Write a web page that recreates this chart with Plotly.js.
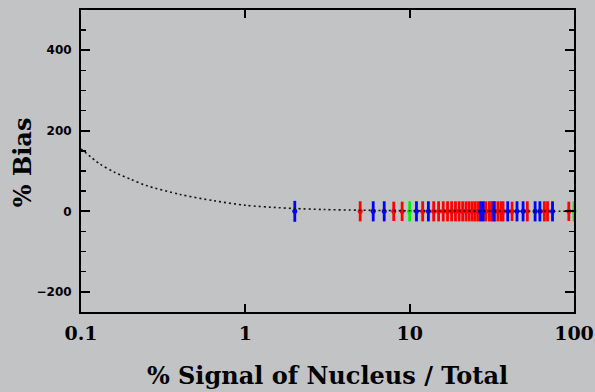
<!DOCTYPE html>
<html>
<head>
<meta charset="utf-8">
<script src="https://cdn.plot.ly/plotly-3.0.1.min.js"></script>
<style>html,body{margin:0;padding:0;background:#c2c3c5;}#chart{width:595px;height:392px;}</style>
</head>
<body>
<div id="chart"></div>
<script>
// Model curve (dotted)
const curveX = [0.1, 0.13, 0.16, 0.2, 0.25, 0.4, 0.65, 1, 1.6, 2, 3, 5, 10, 20, 50, 100];
const curveY = [155, 118, 97, 80, 64, 42, 26, 15, 9, 7, 4.5, 2.8, 1.4, 0.7, 0.3, 0.15];

// Red points
const redX = [5, 8, 9, 12, 14, 15, 16, 17, 18, 19, 20, 21, 22, 23, 24, 25, 26, 29, 30.5, 31.5, 33, 34.5, 36, 37, 42, 52, 66, 69, 93];
const redY = [0, 0, 0, 0, 0, 0, 0, 0, 0, 0, 0, 0, 0, 0, 0, 0, 0, 0, 0, 0, 0, 0, 0, 0, 0, 0, 0, 0, 0];
const redErr = [25, 24, 24, 25, 25, 25, 25, 25, 25, 25, 25, 25, 25, 25, 25, 25, 25, 25, 25, 25, 25, 25, 25, 25, 24, 25, 25, 25, 24];

// Blue points
const blueX = [2, 6, 7, 11, 13, 27, 28, 32.5, 39.5, 45, 49, 58, 62, 74];
const blueY = [0, 0, 0, 0, 0, 0, 0, 0, 0, 0, 0, 0, 0, 0];
const blueErr = [26, 25, 25, 25, 25, 25, 25, 25, 25, 25, 25, 25, 25, 25];

// Green points
const greenX = [10, 100];
const greenY = [0, 0];
const greenErr = [25, 25];

function pts(x, y, e, color) {
  return {
    x: x, y: y, type: 'scatter', mode: 'markers', cliponaxis: false,
    marker: {color: color, size: 5},
    error_y: {type: 'data', array: e, visible: true, color: color, thickness: 2.8, width: 0},
    showlegend: false, hoverinfo: 'skip'
  };
}

const traces = [
  pts(redX, redY, redErr, '#ff0000'),
  pts(blueX, blueY, blueErr, '#0000ff'),
  pts(greenX, greenY, greenErr, '#00ee00'),
  {x: curveX, y: curveY, type: 'scatter', mode: 'lines', line: {color: '#111', width: 1.6, dash: '2px,3px', shape: 'spline', smoothing: 0.8}, showlegend: false, hoverinfo: 'skip'}
];

const layout = {
  width: 595, height: 392,
  margin: {l: 81, r: 21, t: 10, b: 80},
  paper_bgcolor: '#c2c3c5', plot_bgcolor: '#c2c3c5',
  showlegend: false,
  xaxis: {
    type: 'log', range: [-1, 2],
    tickvals: [0.1, 1, 10, 100], ticktext: ['0.1', '1', '10', '100'],
    ticks: 'inside', ticklen: 8, tickwidth: 2, tickcolor: '#000',
    showline: true, linecolor: '#000', linewidth: 2, mirror: 'ticks',
    showgrid: false, zeroline: false,
    ticklabelstandoff: 3,
    tickfont: {family: 'DejaVu Serif', size: 19, color: '#000', weight: 'bold'},
    title: {text: '<b>% Signal of Nucleus / Total</b>', font: {family: 'DejaVu Serif', size: 24, color: '#000'}, standoff: 24}
  },
  yaxis: {
    range: [-250, 500],
    tickvals: [-200, 0, 200, 400], ticktext: ['\u2212200', '0', '200', '400'],
    ticks: 'inside', ticklen: 9, tickwidth: 2, tickcolor: '#000',
    minor: {dtick: 50, ticks: 'inside', ticklen: 5, tickwidth: 1.5, tickcolor: '#000', showgrid: false},
    showline: true, linecolor: '#000', linewidth: 2, mirror: 'ticks',
    showgrid: false, zeroline: false,
    ticklabelstandoff: 5,
    tickfont: {family: 'DejaVu Sans', size: 12, color: '#000', weight: 'bold'},
    title: {text: ''}
  },
  annotations: [{
    text: '<b>% Bias</b>', xref: 'paper', yref: 'paper',
    x: -0.117, y: 0.497, xanchor: 'center', yanchor: 'middle',
    textangle: -90, showarrow: false,
    font: {family: 'DejaVu Serif', size: 24, color: '#000'}
  }]
};

Plotly.newPlot('chart', traces, layout, {staticPlot: true, displayModeBar: false});
</script>
</body>
</html>
